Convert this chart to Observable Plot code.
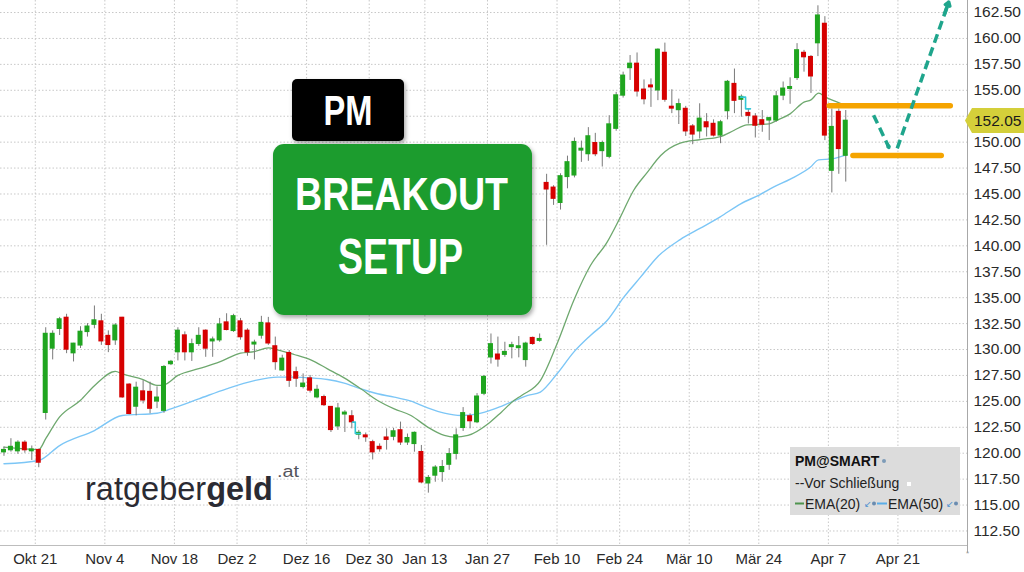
<!DOCTYPE html>
<html><head><meta charset="utf-8">
<script src="https://cdn.jsdelivr.net/npm/d3@7"></script>
<script src="https://cdn.jsdelivr.net/npm/@observablehq/plot@0.6"></script>
<style>
body{margin:0;background:#fff;}
#wrap{position:relative;width:1024px;height:572px;overflow:hidden;background:#fff;}
#wrap svg.ov{position:absolute;left:0;top:0;pointer-events:none;}
</style></head><body><div id="wrap"></div>
<script>
// ---- data (trading-day index from Oct 14, 2024) ----
const opens  = [120.1,120.3,120.2,121.0,120.2,120.3,123.9,130.1,132.0,133.05,129.65,130.4,131.7,132.4,132.7,131.3,130.9,133.05,126.6,124.5,125.95,125.9,125.0,124.1,128.6,129.75,131.35,129.75,130.55,131.8,130.8,130.9,132.6,131.8,132.7,131.8,130.5,131.35,132.5,130.3,128.0,129.65,127.8,126.4,127.2,125.4,125.4,124.45,122.6,123.75,123.55,121.8,121.7,121.05,120.6,121.5,121.6,122.2,121.05,120.9,120.1,117.1,117.85,118.2,118.9,119.95,122.45,123.55,123.0,125.75,129.25,129.5,129.5,130.25,130.15,129.0,131.1,130.85,146.05,145.6,144.15,146.65,146.8,149.2,148.85,149.9,149.15,148.6,151.3,154.5,157.15,157.55,155.05,155.45,155.0,158.6,153.4,153.1,153.2,151.5,151.05,151.9,151.75,150.65,153.0,155.6,154.1,152.8,152.45,152.1,152.1,152.1,154.5,155.15,156.2,158.6,158.2,159.55,161.4,147.25,152.9,148.7];
const highs  = [120.6,121.4,121.2,121.2,120.7,120.4,132.1,131.8,133.1,133.4,130.6,132.2,132.5,134.2,133.4,131.8,132.5,133.1,126.7,126.85,127.0,126.85,126.4,128.45,128.95,132.1,131.7,131.0,132.1,131.9,131.2,133.0,133.45,133.4,133.0,132.0,130.9,133.2,133.1,131.2,129.45,129.9,128.3,127.65,127.5,126.55,125.6,124.5,124.8,124.1,124.1,122.2,121.95,121.25,120.9,122.35,122.4,123.0,121.85,122.05,120.75,117.85,118.8,119.3,120.45,122.35,124.4,123.8,125.75,127.5,131.5,131.2,130.7,130.7,131.25,130.7,131.2,131.5,146.9,145.8,146.95,148.65,150.4,150.1,151.4,150.85,150.1,152.55,154.8,156.75,158.35,158.6,156.0,156.1,159.0,159.55,155.05,154.15,153.45,151.7,153.7,152.75,152.15,152.1,155.95,157.05,154.55,153.2,152.75,153.05,152.4,154.9,155.8,156.2,159.5,158.85,158.35,163.15,162.1,153.2,153.2,153.05];
const lows   = [119.7,120.1,119.9,120.0,119.3,118.6,123.2,129.0,131.35,129.6,128.8,130.1,131.2,132.0,130.4,129.7,130.4,125.3,123.7,123.6,124.75,123.8,124.3,123.85,128.45,128.9,128.9,128.85,130.3,129.25,129.25,130.7,131.8,131.65,130.9,129.35,129.0,131.0,130.4,128.0,127.9,126.35,126.35,126.2,125.8,125.25,124.5,122.0,122.2,122.0,122.35,121.3,121.05,119.35,120.1,120.3,121.2,120.75,120.75,120.1,117.05,116.15,117.2,117.2,118.35,119.35,122.1,122.35,122.85,125.55,128.6,128.3,129.25,129.1,129.2,128.3,130.4,130.7,140.05,143.9,143.45,145.5,146.55,148.05,148.15,148.6,147.6,148.4,151.05,154.25,155.95,154.35,153.6,153.35,154.0,153.85,152.75,151.7,150.55,149.75,150.3,150.5,150.5,149.85,152.15,152.75,152.4,151.75,150.4,150.95,150.15,151.9,154.0,153.65,155.95,156.75,154.7,158.25,150.15,145.1,146.9,146.15];
const closes = [120.3,120.6,121.0,120.3,120.35,119.1,131.5,131.5,132.9,130.0,130.55,131.7,132.2,132.8,130.8,130.45,132.3,125.4,123.8,126.3,125.1,124.3,125.35,128.3,128.8,131.8,129.75,130.5,131.3,130.1,130.95,132.4,131.9,133.2,131.2,129.75,130.65,132.55,130.6,128.8,129.1,127.0,127.2,126.7,126.05,126.1,124.65,122.25,124.3,123.9,123.0,121.95,121.55,120.1,120.4,121.3,122.1,121.05,121.45,121.95,117.2,117.6,118.6,118.65,119.9,121.7,123.85,123.1,125.45,127.35,130.5,129.05,129.75,130.4,130.3,130.55,130.55,131.0,145.45,144.55,146.7,148.05,150.0,149.35,150.55,148.85,149.9,151.7,154.5,156.4,157.55,154.9,154.15,155.3,158.9,154.1,153.25,153.65,151.05,150.75,152.25,151.45,150.65,151.9,155.8,154.0,154.35,152.55,151.6,151.7,152.3,154.4,155.15,155.3,158.85,158.2,156.35,162.2,150.65,151.45,149.35,152.05];

const ema20Day = [0,5,6,8,11,13,16,17,20,22,23,25,28,31,34,36,38,39.3,41.7,44.1,46.5,48.9,51.3,53.7,56.1,58.5,60.9,63.3,64.8,66.7,69.6,71.5,73.3,74.4,77.1,79.5,81.9,84.3,86.7,88.6,90.5,92.5,94.4,97.2,100.1,103,104.9,106.8,108.7,110,111.1,113,115,116,117.1,118.1,119.8,121];
const ema20Val = [120.58,120.35,121.4,123.5,125.1,126.5,127.9,127.65,127.1,126.55,126.6,127.5,128.15,128.8,129.65,129.8,130.15,129.97,129.52,129.0,128.14,127.27,126.21,125.09,124.28,123.64,122.52,121.71,121.55,121.71,122.84,123.96,125.08,125.57,127.0,130.55,134.73,138.1,140.36,142.77,145.34,147.11,148.71,149.9,150.25,150.54,151.12,151.67,151.7,151.76,152.1,152.73,153.86,154.08,154.72,154.34,153.86,153.5];
const ema50Day = [0,5,8,13,17,22,24,28,32,36,39.3,41.7,44.1,46.5,48.9,51.3,53.7,56.1,58.5,60.9,63.3,65.7,68.1,70.5,72.9,75.3,77.1,79.5,81.9,84.3,86.7,89.1,91.5,93.9,97.2,100.1,102.9,105.9,108.7,110.6,113.1,115.9,117.1,119,121.2];
const ema50Val = [118.98,119.3,120.74,122.19,123.64,123.86,124.28,125.24,126.21,127.0,127.34,127.34,127.27,127.11,126.76,126.21,125.73,125.41,125.02,124.38,123.87,123.64,123.8,124.28,124.93,125.57,125.9,127.66,129.75,131.36,132.8,135.05,136.98,138.91,140.6,141.7,142.77,144.05,144.95,145.66,146.46,147.58,148.29,148.39,148.8];

const preClose1Day = [50.1,50.5,50.5,51.25], preClose1Val = [123.0,123.0,121.9,121.9];
const preClose2Day = [105.9,106.6,106.6,107.3], preClose2Val = [154.34,154.34,153.21,153.21];

const levelVal  = [153.5, 148.7];
const levelFrom = [119.2, 122.6];
const levelTo   = [136.6, 135.3];

const arrowFromDay = [125.5, 128.9], arrowFromVal = [152.6, 149.4];
const arrowToDay   = [127.7, 136.3], arrowToVal   = [149.5, 163.5];

const tickDays   = [5,15,25,34,44,53,61,70,80,89,99,109,119,129];
const tickLabels = ["Okt 21","Nov 4","Nov 18","Dez 2","Dez 16","Dez 30","Jan 13","Jan 27","Feb 10","Feb 24","Mär 10","Mär 24","Apr 7","Apr 21"];
const yTicks = [112.5,115,117.5,120,122.5,125,127.5,130,132.5,135,137.5,140,142.5,145,147.5,150,152.5,155,157.5,160,162.5];
const lastPrice = 152.05;

const xDomain = [0, 139];
const yDomain = [111.1, 163.66];

// ---- build tables ----
const candles = opens.map((o, i) => ({i, o, h: highs[i], l: lows[i], c: closes[i]}));
const ema20 = ema20Day.map((d, k) => ({d, v: ema20Val[k]}));
const ema50 = ema50Day.map((d, k) => ({d, v: ema50Val[k]}));
const pc1 = preClose1Day.map((d, k) => ({d, v: preClose1Val[k]}));
const pc2 = preClose2Day.map((d, k) => ({d, v: preClose2Val[k]}));
const levels = levelVal.map((v, k) => ({v, a: levelFrom[k], b: levelTo[k]}));
const arrows = arrowFromDay.map((d, k) => ({x1: arrowFromDay[k], y1: arrowFromVal[k], x2: arrowToDay[k], y2: arrowToVal[k]}));
const heads = arrows.map(a => {
  const t = 0.08;
  return {x1: a.x2 - (a.x2 - a.x1) * t, y1: a.y2 - (a.y2 - a.y1) * t, x2: a.x2, y2: a.y2};
});
const labelMap = new Map(tickDays.map((d, k) => [d, tickLabels[k]]));
// the 152.50 label sits behind the last-price tag, as in the source chart
const yLabelTicks = yTicks.filter(t => Math.abs(t - lastPrice) > 1.2);

const GREEN = "#1fa51f", RED = "#d60000";

const chart = Plot.plot({
  width: 1024, height: 572,
  marginLeft: 0, marginRight: 57, marginTop: 0, marginBottom: 27,
  x: {domain: xDomain, axis: null},
  y: {domain: yDomain, axis: null},
  style: {fontFamily: "'Liberation Sans', Arial, sans-serif", fontSize: "15px", color: "#2a2a2a", background: "#fff", overflow: "hidden"},
  marks: [
    Plot.ruleY(yTicks, {stroke: "#c8c8c8", strokeDasharray: "1.5,2"}),
    Plot.ruleX(tickDays, {stroke: "#c8c8c8", strokeDasharray: "1.5,2"}),
    Plot.ruleY([yDomain[0]], {stroke: "#bdbdbd"}),
    Plot.ruleX([xDomain[1]], {stroke: "#a8a8a8", y1: yDomain[0] - 0.7, y2: yDomain[1]}),
    Plot.line(ema50, {x: d => d.d + 0.5, y: "v", stroke: "#7cc6f6", strokeWidth: 1.4, curve: "monotone-x"}),
    Plot.line(ema20, {x: d => d.d + 0.5, y: "v", stroke: "#6ea86e", strokeWidth: 1.3, curve: "monotone-x"}),
    Plot.ruleX(candles, {x: d => d.i + 0.5, y1: "l", y2: "h", stroke: "#7a7a7a", strokeWidth: 1}),
    Plot.rect(candles, {x1: d => d.i + 0.5 - 0.36, x2: d => d.i + 0.5 + 0.36, y1: "o", y2: "c",
      fill: d => d.c >= d.o ? GREEN : RED, insetTop: -0.7, insetBottom: -0.7}),
    Plot.line(pc1, {x: d => d.d + 0.5, y: "v", stroke: "#33c6d6", strokeWidth: 1.6}),
    Plot.line(pc2, {x: d => d.d + 0.5, y: "v", stroke: "#33c6d6", strokeWidth: 1.6}),
    Plot.ruleY(levels, {y: "v", x1: "a", x2: "b", stroke: "#f5a400", strokeWidth: 5.5, strokeLinecap: "round"}),
    Plot.link(arrows, {x1: "x1", y1: "y1", x2: "x2", y2: "y2", stroke: "#1fa58c", strokeWidth: 3.5, strokeDasharray: "9,5"}),
    Plot.arrow(heads, {x1: "x1", y1: "y1", x2: "x2", y2: "y2", stroke: "#1fa58c", strokeWidth: 3.5, headLength: 13, headAngle: 70}),
    Plot.axisY(yLabelTicks, {anchor: "right", tickSize: 0, tickPadding: 6, tickFormat: d => d.toFixed(2), fontSize: 15.5, fill: "#2a2a2a"}),
    Plot.axisX(tickDays, {anchor: "bottom", tickSize: 0, tickPadding: 8, tickFormat: d => labelMap.get(d), fontSize: 15, fill: "#2a2a2a"})
  ]
});
const wrap = document.getElementById("wrap");
wrap.appendChild(chart);

// ---- overlays: annotation boxes, logo, legend, last-price tag ----
const yPx = v => (yDomain[1] - v) / (yDomain[1] - yDomain[0]) * 545;
const py = yPx(lastPrice);
const ns = "http://www.w3.org/2000/svg";
const ov = document.createElementNS(ns, "svg");
ov.setAttribute("class", "ov");
ov.setAttribute("width", 1024); ov.setAttribute("height", 572);
ov.innerHTML = `
<defs>
 <filter id="sh" x="-10%" y="-10%" width="130%" height="130%"><feDropShadow dx="1.5" dy="2.5" stdDeviation="2" flood-color="#000" flood-opacity="0.35"/></filter>
</defs>
<g font-family="'Liberation Sans', Arial, sans-serif" font-weight="bold" fill="#fff">
 <rect x="292" y="79" width="112" height="62" rx="5" fill="#000" filter="url(#sh)"/>
 <text x="348" y="125" font-size="42" text-anchor="middle" textLength="49" lengthAdjust="spacingAndGlyphs">PM</text>
 <rect x="273" y="144" width="259" height="171" rx="11" fill="#1e9c2e" filter="url(#sh)"/>
 <text x="401.5" y="210" font-size="47" text-anchor="middle" textLength="213" lengthAdjust="spacingAndGlyphs">BREAKOUT</text>
 <text x="400.5" y="274" font-size="50" text-anchor="middle" textLength="125" lengthAdjust="spacingAndGlyphs">SETUP</text>
</g>
<g font-family="'Liberation Sans', Arial, sans-serif" fill="#2b2b33">
 <text x="85" y="500" font-size="34" textLength="188" lengthAdjust="spacingAndGlyphs"><tspan font-weight="normal">ratgeber</tspan><tspan font-weight="bold">geld</tspan></text>
 <text x="277" y="477" font-size="16" fill="#55555c" textLength="22" lengthAdjust="spacingAndGlyphs">.at</text>
</g>
<g font-family="'Liberation Sans', Arial, sans-serif" font-size="14">
 <rect x="790" y="447" width="170" height="68" fill="#dcdcdc"/>
 <text x="795" y="466" font-weight="bold" fill="#111">PM@SMART</text>
 <circle cx="884" cy="461" r="2" fill="#7d9bb8"/>
 <text x="795" y="488" fill="#222">--Vor Schließung</text>
 <rect x="907" y="482" width="4" height="4" fill="#fff"/>
 <line x1="795" y1="503.5" x2="804" y2="503.5" stroke="#4e944e" stroke-width="2"/>
 <text x="805" y="509" fill="#222">EMA(20)</text>
 <text x="864" y="507" font-size="9" fill="#4a8fd0">↙</text>
 <circle cx="874" cy="503.5" r="2" fill="#6a8cb0"/>
 <line x1="877" y1="503.5" x2="887" y2="503.5" stroke="#5aaee8" stroke-width="2"/>
 <text x="888" y="509" fill="#222">EMA(50)</text>
 <text x="946" y="507" font-size="9" fill="#4a8fd0">↙</text>
 <circle cx="956" cy="503.5" r="2" fill="#6a8cb0"/>
</g>
<polygon points="965,${py} 972,${py-12.5} 1024,${py-12.5} 1024,${py+12.5} 972,${py+12.5}" fill="#d4cf3a"/>
<text x="974" y="${py+5.5}" font-family="'Liberation Sans', Arial, sans-serif" font-size="15.5" fill="#1a1a1a">${lastPrice.toFixed(2)}</text>
<text x="966" y="556" font-family="'Liberation Sans', Arial, sans-serif" font-size="8" fill="#999">*</text>
`;
wrap.appendChild(ov);
</script>
</body></html>
